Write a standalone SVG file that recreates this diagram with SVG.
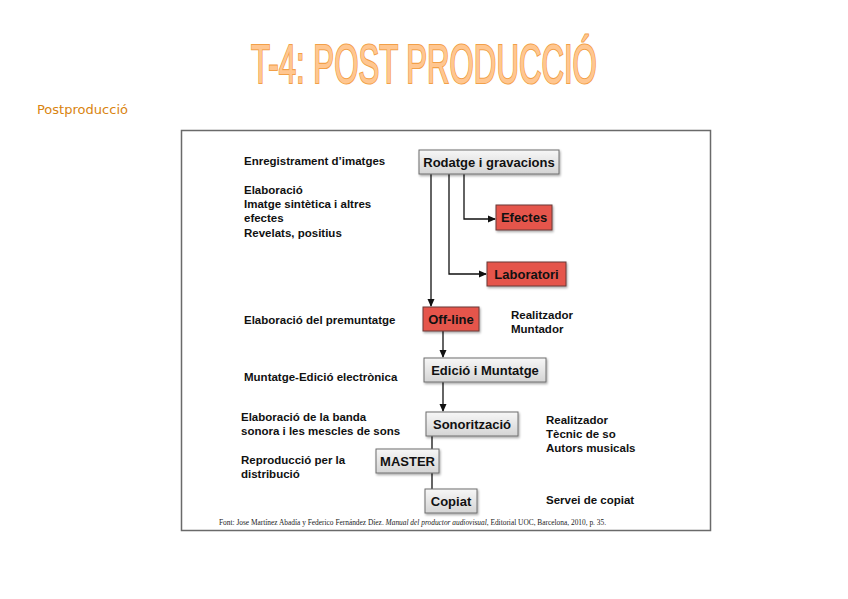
<svg xmlns="http://www.w3.org/2000/svg" width="848" height="599" viewBox="0 0 848 599">
<style>
.title{font-family:"Liberation Sans",Arial,sans-serif;fill:#FFC690;stroke:#F2A048;stroke-width:2.2;paint-order:stroke}
.sub{font-family:"Liberation Sans Narrow","DejaVu Sans Condensed",sans-serif;fill:#D9840F;font-size:13px}
.lbl{font-family:"Liberation Sans",Arial,sans-serif;font-weight:bold;font-size:11.5px;fill:#111}
.nt{font-family:"Liberation Sans",Arial,sans-serif;font-weight:bold;font-size:13px;fill:#111;text-anchor:middle}
.gbox{fill:url(#gg);stroke:#6e6e6e;stroke-width:1}
.rbox{fill:#E5554B;stroke:#6a3a36;stroke-width:1}
.ln{fill:none;stroke:#111;stroke-width:1.3}
.foot{font-family:"Liberation Serif","Times New Roman",serif;font-size:7.6px;fill:#222}
</style>
<defs>
<linearGradient id="gg" x1="0" y1="0" x2="0" y2="1">
<stop offset="0" stop-color="#f7f7f7"/>
<stop offset="1" stop-color="#d4d4d4"/>
</linearGradient>
<marker id="ar" markerWidth="8" markerHeight="8" refX="7" refY="4" orient="auto" markerUnits="userSpaceOnUse">
<path d="M0,0.5 L8,4 L0,7.5 Z" fill="#111"/>
</marker>
<filter id="sh" x="-10%" y="-10%" width="130%" height="150%">
<feDropShadow dx="1" dy="1.5" stdDeviation="0.8" flood-color="#000" flood-opacity="0.35"/>
</filter>
</defs>
<rect width="848" height="599" fill="#fff"/>
<text class="title" transform="translate(251,83) scale(0.567,1)" x="0" y="0" font-size="55">T-4: POST PRODUCCIÓ</text>
<text class="sub" x="37" y="114" textLength="91" lengthAdjust="spacingAndGlyphs">Postproducció</text>
<rect x="181.5" y="130.5" width="529" height="400" fill="#fff" stroke="#6a6a6a" stroke-width="1.5"/>

<g id="connectors">
<path class="ln" d="M431,174 V306" marker-end="url(#ar)"/>
<path class="ln" d="M449,174 V274 H486" marker-end="url(#ar)"/>
<path class="ln" d="M464,174 V219 H495" marker-end="url(#ar)"/>
<path class="ln" d="M443,331 V357" marker-end="url(#ar)"/>
<path class="ln" d="M443,382 V411" marker-end="url(#ar)"/>
<path class="ln" d="M432,436 V449"/>
<path class="ln" d="M432,473 V489"/>
</g>

<g id="rodatge"><rect class="gbox" x="419" y="150" width="140" height="24" filter="url(#sh)"/><text class="nt" x="489" y="167">Rodatge i gravacions</text></g>
<g id="efectes"><rect class="rbox" x="496" y="205" width="56" height="25" filter="url(#sh)"/><text class="nt" x="524" y="222">Efectes</text></g>
<g id="laboratori"><rect class="rbox" x="487" y="262" width="79" height="24" filter="url(#sh)"/><text class="nt" x="526.5" y="279">Laboratori</text></g>
<g id="offline"><rect class="rbox" x="423" y="307" width="56" height="24" filter="url(#sh)"/><text class="nt" x="451" y="324">Off-line</text></g>
<g id="edicio"><rect class="gbox" x="424" y="358" width="122" height="24" filter="url(#sh)"/><text class="nt" x="485" y="375">Edició i Muntatge</text></g>
<g id="sonoritzacio"><rect class="gbox" x="426" y="412" width="92" height="24" filter="url(#sh)"/><text class="nt" x="472" y="429">Sonorització</text></g>
<g id="master"><rect class="gbox" x="376" y="449" width="63" height="24" filter="url(#sh)"/><text class="nt" x="407.5" y="466">MASTER</text></g>
<g id="copiat"><rect class="gbox" x="425" y="489" width="52" height="24" filter="url(#sh)"/><text class="nt" x="451" y="506">Copiat</text></g>

<g id="labels">
<text class="lbl" x="244" y="165">Enregistrament d’imatges</text>
<text class="lbl" x="244" y="194">Elaboració</text>
<text class="lbl" x="244" y="208">Imatge sintètica i altres</text>
<text class="lbl" x="244" y="222">efectes</text>
<text class="lbl" x="244" y="237">Revelats, positius</text>
<text class="lbl" x="244" y="324">Elaboració del premuntatge</text>
<text class="lbl" x="244" y="381">Muntatge-Edició electrònica</text>
<text class="lbl" x="241" y="421">Elaboració de la banda</text>
<text class="lbl" x="241" y="435">sonora i les mescles de sons</text>
<text class="lbl" x="241" y="464">Reproducció per la</text>
<text class="lbl" x="241" y="478">distribució</text>
<text class="lbl" x="511" y="319">Realitzador</text>
<text class="lbl" x="511" y="333">Muntador</text>
<text class="lbl" x="546" y="424">Realitzador</text>
<text class="lbl" x="546" y="438">Tècnic de so</text>
<text class="lbl" x="546" y="452">Autors musicals</text>
<text class="lbl" x="546" y="504">Servei de copiat</text>
</g>
<text class="foot" x="219" y="525" textLength="387" lengthAdjust="spacingAndGlyphs">Font: Jose Martínez Abadía y Federico Fernández Díez. <tspan font-style="italic">Manual del productor audiovisual</tspan>, Editorial UOC, Barcelona, 2010, p. 35.</text>
</svg>
